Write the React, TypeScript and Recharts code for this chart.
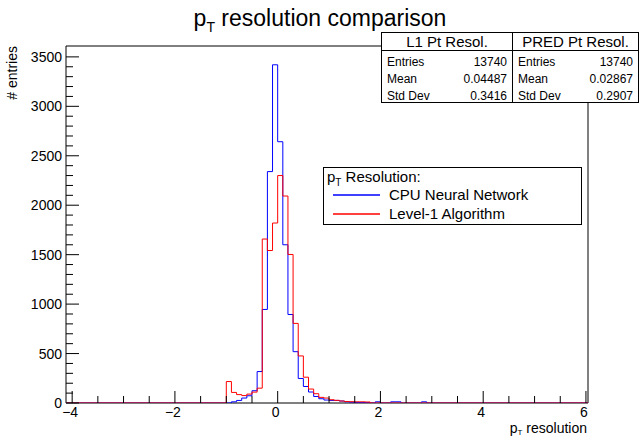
import React from 'react';
import { ComposedChart, Line, XAxis, YAxis, ReferenceArea } from 'recharts';

// histogram bins (lower edge, width 0.1)
const binLow = [
  -1.0, -0.9, -0.8, -0.7, -0.6, -0.5, -0.4, -0.3, -0.2, -0.1,
  0.0, 0.1, 0.2, 0.3, 0.4, 0.5, 0.6, 0.7, 0.8, 0.9,
  1.0, 1.1, 1.2, 1.3, 1.4, 1.5, 1.6, 1.7, 1.8, 1.9,
  2.0, 2.1, 2.2, 2.3, 2.4, 2.5, 2.6, 2.7, 2.8, 2.9,
];
const lastEdge = 3.0;

// Level-1 Algorithm (red)
const l1Counts = [
  217, 107, 85, 75, 90, 110, 150, 1658, 1542, 1820,
  2300, 2093, 1502, 805, 476, 261, 141, 94, 57, 50,
  33, 27, 20, 15, 13, 12, 12, 10, 0, 0,
  0, 0, 0, 0, 0, 0, 0, 0, 0, 0,
];

// CPU Neural Network (blue)
const nnCounts = [
  0, 12, 26, 50, 73, 124, 318, 946, 2340, 3420,
  2642, 1600, 895, 519, 248, 167, 111, 66, 43, 30,
  26, 26, 20, 12, 8, 6, 4, 4, 0, 12,
  0, 0, 12, 12, 0, 0, 0, 0, 12, 0,
];

const xTicks = [-4, -3.5, -3, -2.5, -2, -1.5, -1, -0.5, 0, 0.5, 1, 1.5, 2, 2.5, 3, 3.5, 4, 4.5, 5, 5.5, 6];
const xMajor = [-4, -2, 0, 2, 4, 6];
const yTicks = [
  0, 100, 200, 300, 400, 500, 600, 700, 800, 900,
  1000, 1100, 1200, 1300, 1400, 1500, 1600, 1700, 1800, 1900,
  2000, 2100, 2200, 2300, 2400, 2500, 2600, 2700, 2800, 2900,
  3000, 3100, 3200, 3300, 3400, 3500,
];
const yMajor = [0, 500, 1000, 1500, 2000, 2500, 3000, 3500];

const statNames = ['Entries', 'Mean', 'Std Dev'];
const l1Stats = ['13740', '0.04487', '0.3416'];
const predStats = ['13740', '0.02867', '0.2907'];

const X_MIN = -4.12;
const X_MAX = 6.04;
const Y_MAX = 3610;

const FONT = '"Liberation Sans", Arial, Helvetica, sans-serif';

const toSteps = (counts: number[]) => [
  { x: X_MIN, y: 0 },
  ...binLow.map((x, i) => ({ x, y: counts[i] })),
  { x: lastEdge, y: 0 },
  { x: X_MAX, y: 0 },
];

const l1Data = toSteps(l1Counts);
const nnData = toSteps(nnCounts);

const fmt = (v: number) => (v < 0 ? '\u2212' + Math.abs(v) : String(v));

function XTick(props: any) {
  const { x, y, payload } = props;
  const major = xMajor.includes(payload.value);
  return (
    <g>
      <line x1={x} x2={x} y1={y} y2={y - (major ? 12 : 7)} stroke="#000" strokeWidth={1} />
      {major && (
        <text x={x - 2} y={y + 14} textAnchor="middle" fontSize={14} fontFamily={FONT} fill="#000">
          {fmt(payload.value)}
        </text>
      )}
    </g>
  );
}

function YTick(props: any) {
  const { x, y, payload } = props;
  const major = yMajor.includes(payload.value);
  return (
    <g>
      <line x1={x} x2={x + (major ? 13 : 7)} y1={y} y2={y} stroke="#000" strokeWidth={1} />
      {major && (
        <text x={x - 4} y={y + 5} textAnchor="end" fontSize={14} fontFamily={FONT} fill="#000">
          {payload.value}
        </text>
      )}
    </g>
  );
}

function StatsBox({ left, width, title, values }: { left: number; width: number; title: string; values: string[] }) {
  return (
    <div
      style={{
        position: 'absolute',
        left,
        top: 32,
        width,
        height: 71,
        background: '#fff',
        border: '1px solid #000',
        boxSizing: 'border-box',
        fontFamily: FONT,
        color: '#000',
      }}
    >
      <div style={{ height: 17, lineHeight: '17px', fontSize: 15, textAlign: 'center', borderBottom: '1px solid #000' }}>
        {title}
      </div>
      <div style={{ padding: '3px 5px 0 5px' }}>
        {statNames.map((n, i) => (
          <div key={n} style={{ display: 'flex', justifyContent: 'space-between', fontSize: 12, lineHeight: '17px' }}>
            <span>{n}</span>
            <span>{values[i]}</span>
          </div>
        ))}
      </div>
    </div>
  );
}

export default function App() {
  return (
    <div style={{ position: 'absolute', left: 0, top: 0, width: 641, height: 437, background: '#fff', fontFamily: FONT }}>
      <ComposedChart width={641} height={437} margin={{ top: 46, right: 53, bottom: 4, left: 6 }}>
        <XAxis
          type="number"
          dataKey="x"
          domain={[X_MIN, X_MAX]}
          allowDataOverflow
          ticks={xTicks}
          interval={0}
          tick={(p: any) => <XTick {...p} />}
          tickSize={0}
          tickMargin={0}
          tickLine={false}
          axisLine={false}
          height={30}
        />
        <YAxis
          type="number"
          domain={[0, Y_MAX]}
          allowDataOverflow
          ticks={yTicks}
          interval={0}
          tick={(p: any) => <YTick {...p} />}
          tickSize={0}
          tickMargin={0}
          tickLine={false}
          axisLine={false}
          width={60}
        />
        <ReferenceArea x1={X_MIN} x2={X_MAX} y1={0} y2={Y_MAX} fill="none" stroke="#000" strokeWidth={1} ifOverflow="visible" />
        <Line
          data={nnData}
          dataKey="y"
          type="stepAfter"
          stroke="#0000ff"
          strokeWidth={1}
          dot={false}
          activeDot={false}
          isAnimationActive={false}
        />
        <Line
          data={l1Data}
          dataKey="y"
          type="stepAfter"
          stroke="#ff0000"
          strokeWidth={1}
          dot={false}
          activeDot={false}
          isAnimationActive={false}
        />
      </ComposedChart>

      <svg style={{ position: 'absolute', left: 0, top: 0 }} width={641} height={437}>
        <text x={320} y={26} textAnchor="middle" fontSize={23} fontFamily={FONT} fill="#000">
          p<tspan fontSize={14} dy={6}>T</tspan>
          <tspan dy={-6}> resolution comparison</tspan>
        </text>
        <text transform="translate(17, 46) rotate(-90)" textAnchor="end" fontSize={14} fontFamily={FONT} fill="#000">
          # entries
        </text>
        <text x={587} y={433} textAnchor="end" fontSize={14} fontFamily={FONT} fill="#000">
          p<tspan fontSize={8} dy={2}>T</tspan>
          <tspan dy={-2}> resolution</tspan>
        </text>
      </svg>

      <StatsBox left={381} width={132} title="L1 Pt Resol." values={l1Stats} />
      <StatsBox left={512} width={127} title="PRED Pt Resol." values={predStats} />

      <svg style={{ position: 'absolute', left: 323, top: 167 }} width={259} height={58}>
        <rect x={0.5} y={0.5} width={258} height={57} fill="#fff" stroke="#000" strokeWidth={1} />
        <text x={4} y={15} fontSize={15} fontFamily={FONT} fill="#000">
          p<tspan fontSize={10} dy={4}>T</tspan>
          <tspan dy={-4}> Resolution:</tspan>
        </text>
        <line x1={10} x2={57} y1={28} y2={28} stroke="#0000ff" strokeWidth={1.3} />
        <text x={66} y={33} fontSize={15} fontFamily={FONT} fill="#000">
          CPU Neural Network
        </text>
        <line x1={10} x2={57} y1={47} y2={47} stroke="#ff0000" strokeWidth={1.3} />
        <text x={66} y={52} fontSize={15} fontFamily={FONT} fill="#000">
          Level-1 Algorithm
        </text>
      </svg>
    </div>
  );
}
